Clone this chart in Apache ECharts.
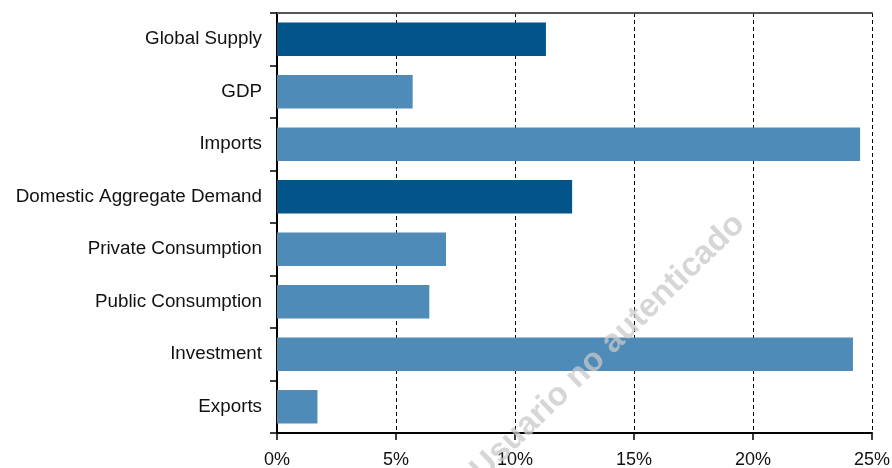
<!DOCTYPE html>
<html>
<head>
<meta charset="utf-8">
<script src="https://cdn.jsdelivr.net/npm/echarts@6/dist/echarts.min.js"></script>
<style>
  html, body { margin: 0; padding: 0; background: #fff; }
  #chart { width: 892px; height: 468px; }
</style>
</head>
<body>
<div id="chart"></div>
<script>
// categories, top to bottom
const categories = ['Global Supply', 'GDP', 'Imports', 'Domestic Aggregate Demand',
  'Private Consumption', 'Public Consumption', 'Investment', 'Exports']
// growth values in percent
const values = [11.3, 5.7, 24.5, 12.4, 7.1, 6.4, 24.2, 1.7]
// aggregates shown in the darker blue
const totals = ['Global Supply', 'Domestic Aggregate Demand']

const chart = echarts.init(document.getElementById('chart'))
const font = 'Liberation Sans, Arial, sans-serif'

chart.setOption({
  animation: false,
  grid: { left: 277, right: 20, top: 13, bottom: 35, containLabel: false, outerBoundsMode: 'none' },
  xAxis: [
    {
      type: 'value',
      min: 0,
      max: 25,
      interval: 5,
      axisLine: { show: true, lineStyle: { color: '#000', width: 2 } },
      axisTick: { show: true, length: 7, lineStyle: { color: '#000', width: 1.5 } },
      axisLabel: { formatter: '{value}%', color: '#111', fontSize: 18, fontFamily: font, margin: 18 },
      splitLine: { show: true, lineStyle: { color: '#000', type: [4, 3], width: 1 } }
    },
    {
      type: 'value',
      position: 'top',
      min: 0,
      max: 25,
      axisLine: { show: true, lineStyle: { color: '#555', width: 2 } },
      axisTick: { show: false },
      axisLabel: { show: false },
      splitLine: { show: false }
    }
  ],
  yAxis: {
    type: 'category',
    inverse: true,
    data: categories,
    axisLine: { lineStyle: { color: '#000', width: 2 } },
    axisTick: { show: true, length: 7, lineStyle: { color: '#000', width: 1.5 } },
    axisLabel: { color: '#111', fontSize: 18.8, fontFamily: font, margin: 15, padding: [5, 0, 0, 0] }
  },
  series: [{
    type: 'bar',
    barCategoryGap: '36%',
    data: values.map((v, i) => ({
      value: v,
      itemStyle: { color: totals.includes(categories[i]) ? '#02548A' : '#4E8BB8' }
    }))
  }],
  graphic: [{
    type: 'text',
    x: 608,
    y: 347,
    rotation: 0.77,
    z: 100,
    style: {
      text: 'Usuario no autenticado',
      fill: 'rgba(200,200,200,0.75)',
      font: 'bold 33px ' + font,
      align: 'center',
      verticalAlign: 'middle'
    }
  }]
})
</script>
</body>
</html>
